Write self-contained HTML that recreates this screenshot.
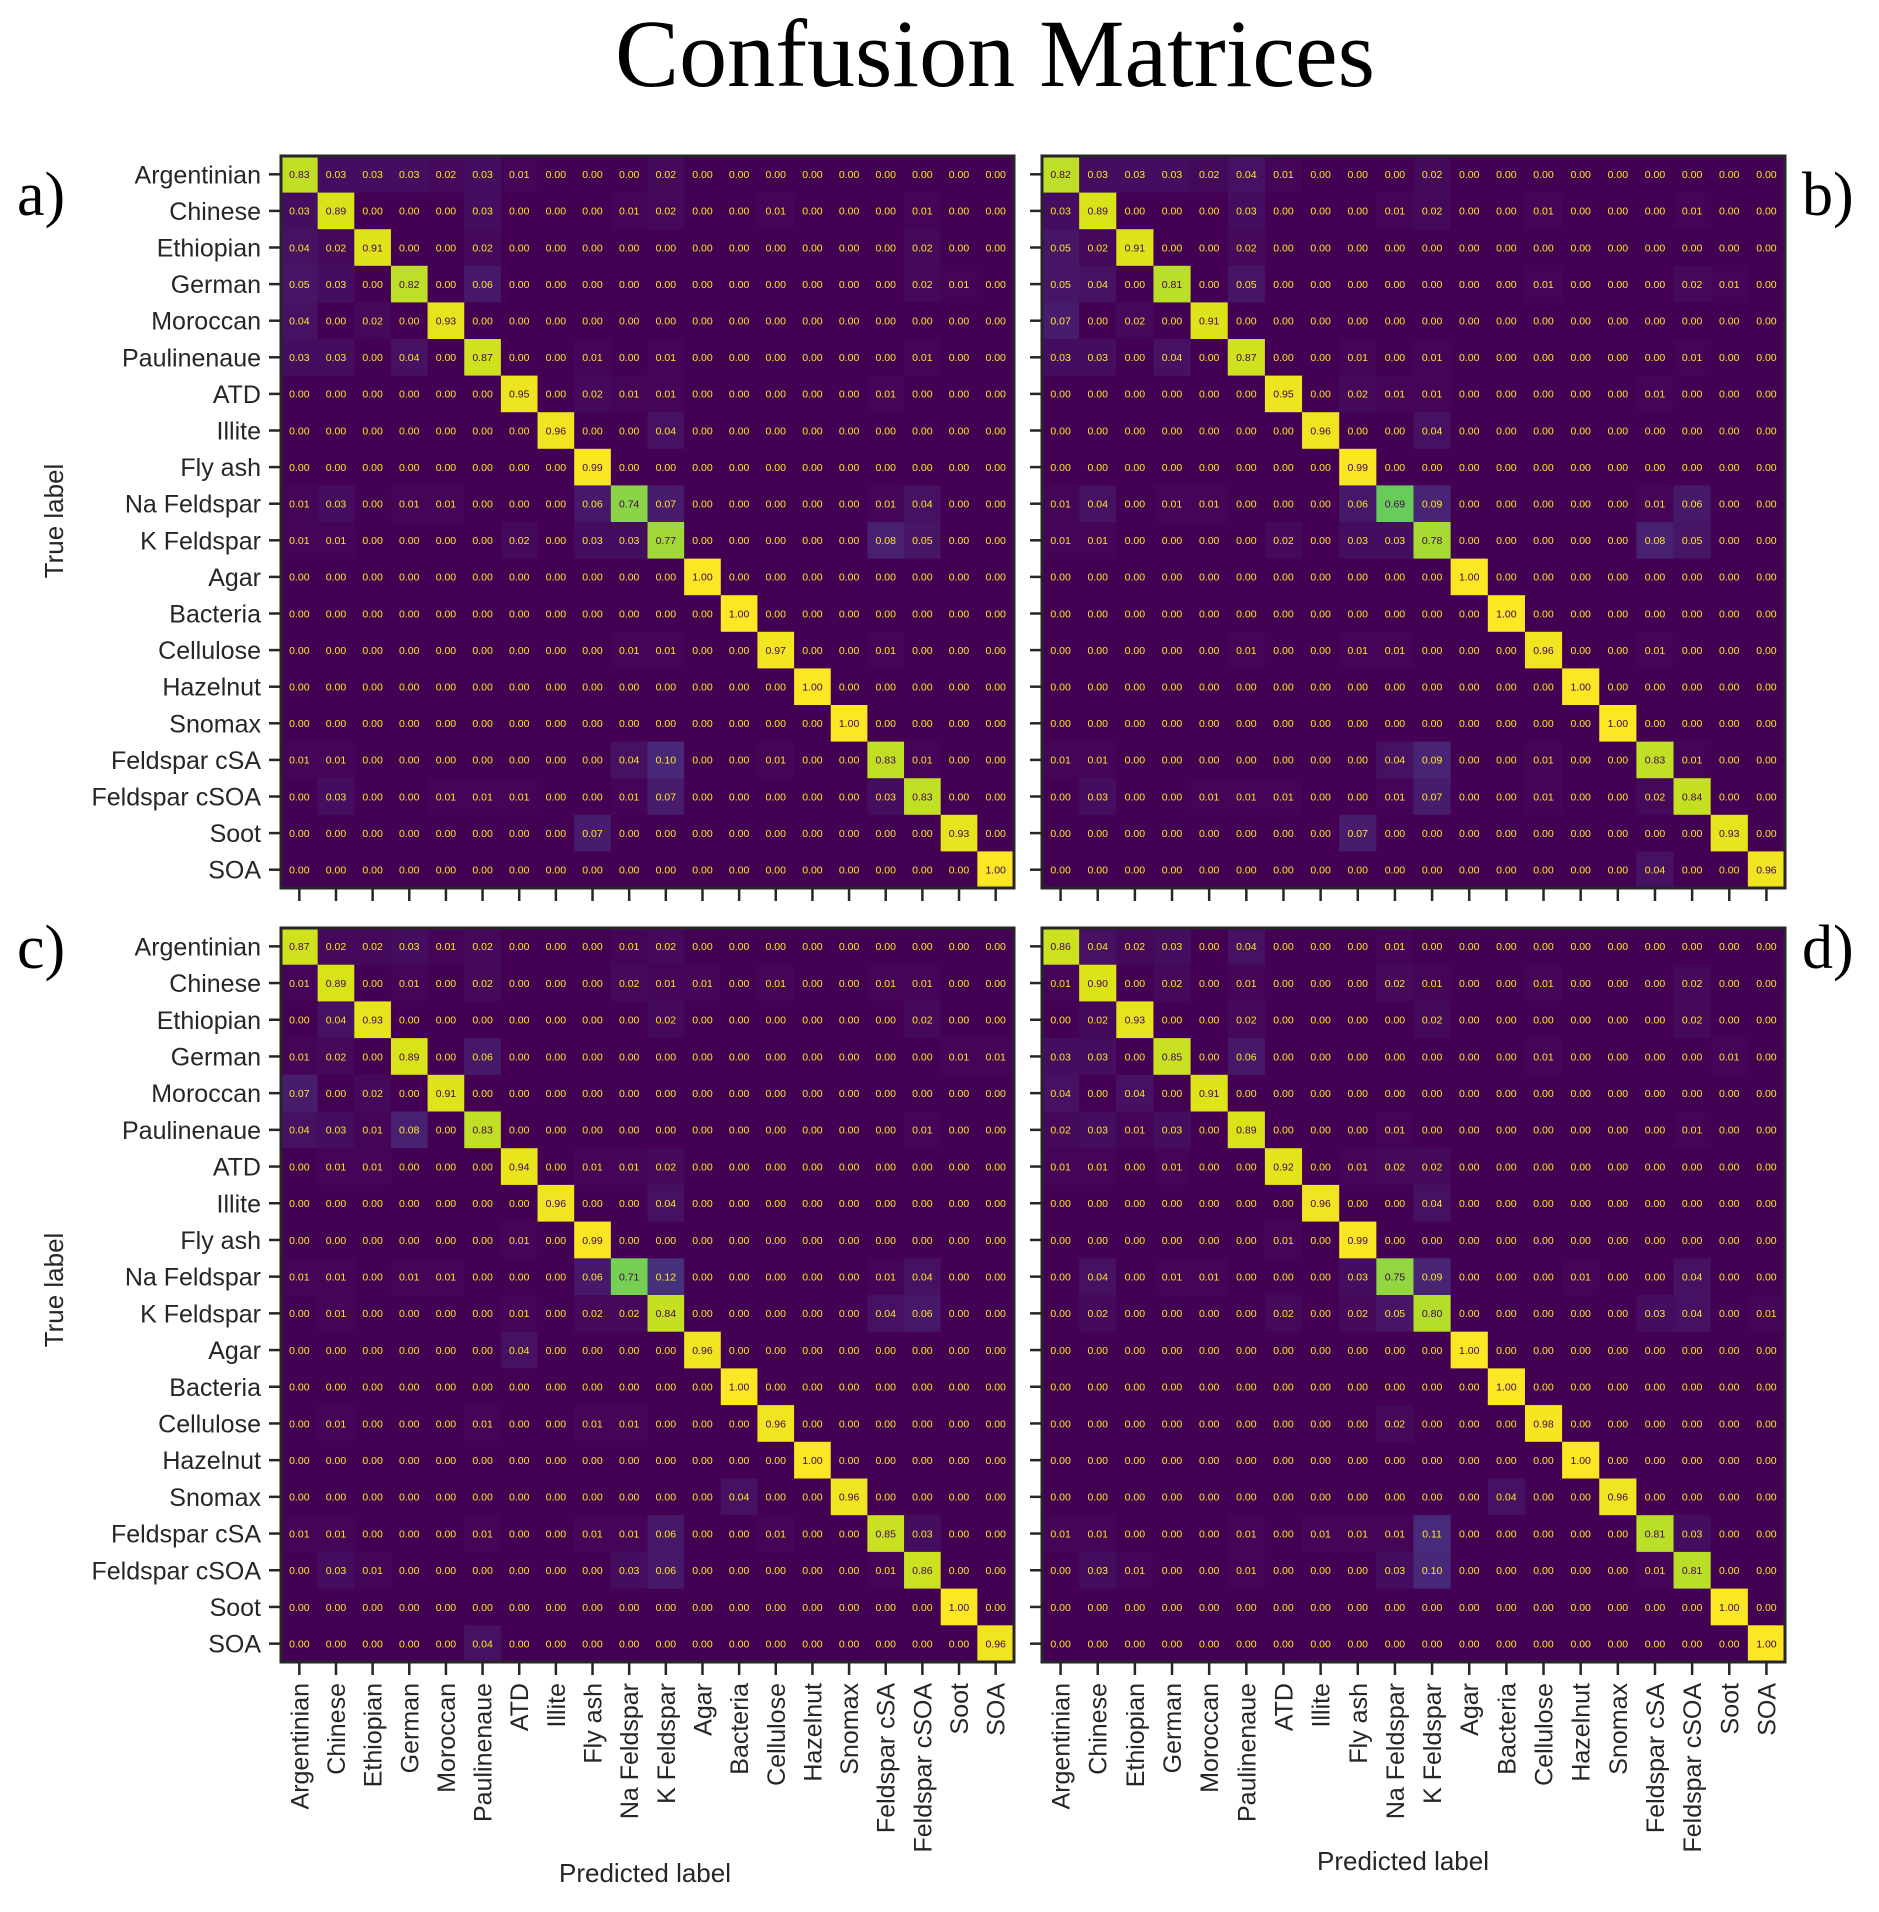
<!DOCTYPE html>
<html><head><meta charset="utf-8"><style>
html,body{margin:0;padding:0;background:#fff}
svg{display:block}
</style></head><body>
<svg id="fig" width="1879" height="1912" viewBox="0 0 1879 1912" xmlns="http://www.w3.org/2000/svg">
<text x="995" y="86" text-anchor="middle" font-family="Liberation Serif, serif" font-size="96">Confusion Matrices</text>
<text x="17" y="215" font-family="Liberation Serif, serif" font-size="62">a)</text>
<text x="1802" y="215" font-family="Liberation Serif, serif" font-size="62">b)</text>
<text x="17" y="968" font-family="Liberation Serif, serif" font-size="62">c)</text>
<text x="1802" y="968" font-family="Liberation Serif, serif" font-size="62">d)</text>
<text transform="translate(63,521) rotate(-90)" text-anchor="middle" font-family="Liberation Sans, sans-serif" font-size="26" fill="#262626">True label</text>
<text transform="translate(63,1290) rotate(-90)" text-anchor="middle" font-family="Liberation Sans, sans-serif" font-size="26" fill="#262626">True label</text>
<text x="645" y="1882" text-anchor="middle" font-family="Liberation Sans, sans-serif" font-size="26" fill="#262626">Predicted label</text>
<text x="1403" y="1870" text-anchor="middle" font-family="Liberation Sans, sans-serif" font-size="26" fill="#262626">Predicted label</text>
</svg>
<script>
const classes = ["Argentinian","Chinese","Ethiopian","German","Moroccan","Paulinenaue","ATD","Illite","Fly ash","Na Feldspar","K Feldspar","Agar","Bacteria","Cellulose","Hazelnut","Snomax","Feldspar cSA","Feldspar cSOA","Soot","SOA"];

const matrixA = [
[0.83,0.03,0.03,0.03,0.02,0.03,0.01,0,0,0,0.02,0,0,0,0,0,0,0,0,0],
[0.03,0.89,0,0,0,0.03,0,0,0,0.01,0.02,0,0,0.01,0,0,0,0.01,0,0],
[0.04,0.02,0.91,0,0,0.02,0,0,0,0,0,0,0,0,0,0,0,0.02,0,0],
[0.05,0.03,0,0.82,0,0.06,0,0,0,0,0,0,0,0,0,0,0,0.02,0.01,0],
[0.04,0,0.02,0,0.93,0,0,0,0,0,0,0,0,0,0,0,0,0,0,0],
[0.03,0.03,0,0.04,0,0.87,0,0,0.01,0,0.01,0,0,0,0,0,0,0.01,0,0],
[0,0,0,0,0,0,0.95,0,0.02,0.01,0.01,0,0,0,0,0,0.01,0,0,0],
[0,0,0,0,0,0,0,0.96,0,0,0.04,0,0,0,0,0,0,0,0,0],
[0,0,0,0,0,0,0,0,0.99,0,0,0,0,0,0,0,0,0,0,0],
[0.01,0.03,0,0.01,0.01,0,0,0,0.06,0.74,0.07,0,0,0,0,0,0.01,0.04,0,0],
[0.01,0.01,0,0,0,0,0.02,0,0.03,0.03,0.77,0,0,0,0,0,0.08,0.05,0,0],
[0,0,0,0,0,0,0,0,0,0,0,1.00,0,0,0,0,0,0,0,0],
[0,0,0,0,0,0,0,0,0,0,0,0,1.00,0,0,0,0,0,0,0],
[0,0,0,0,0,0,0,0,0,0.01,0.01,0,0,0.97,0,0,0.01,0,0,0],
[0,0,0,0,0,0,0,0,0,0,0,0,0,0,1.00,0,0,0,0,0],
[0,0,0,0,0,0,0,0,0,0,0,0,0,0,0,1.00,0,0,0,0],
[0.01,0.01,0,0,0,0,0,0,0,0.04,0.10,0,0,0.01,0,0,0.83,0.01,0,0],
[0,0.03,0,0,0.01,0.01,0.01,0,0,0.01,0.07,0,0,0,0,0,0.03,0.83,0,0],
[0,0,0,0,0,0,0,0,0.07,0,0,0,0,0,0,0,0,0,0.93,0],
[0,0,0,0,0,0,0,0,0,0,0,0,0,0,0,0,0,0,0,1.00]];

const matrixB = [
[0.82,0.03,0.03,0.03,0.02,0.04,0.01,0,0,0,0.02,0,0,0,0,0,0,0,0,0],
[0.03,0.89,0,0,0,0.03,0,0,0,0.01,0.02,0,0,0.01,0,0,0,0.01,0,0],
[0.05,0.02,0.91,0,0,0.02,0,0,0,0,0,0,0,0,0,0,0,0,0,0],
[0.05,0.04,0,0.81,0,0.05,0,0,0,0,0,0,0,0.01,0,0,0,0.02,0.01,0],
[0.07,0,0.02,0,0.91,0,0,0,0,0,0,0,0,0,0,0,0,0,0,0],
[0.03,0.03,0,0.04,0,0.87,0,0,0.01,0,0.01,0,0,0,0,0,0,0.01,0,0],
[0,0,0,0,0,0,0.95,0,0.02,0.01,0.01,0,0,0,0,0,0.01,0,0,0],
[0,0,0,0,0,0,0,0.96,0,0,0.04,0,0,0,0,0,0,0,0,0],
[0,0,0,0,0,0,0,0,0.99,0,0,0,0,0,0,0,0,0,0,0],
[0.01,0.04,0,0.01,0.01,0,0,0,0.06,0.69,0.09,0,0,0,0,0,0.01,0.06,0,0],
[0.01,0.01,0,0,0,0,0.02,0,0.03,0.03,0.78,0,0,0,0,0,0.08,0.05,0,0],
[0,0,0,0,0,0,0,0,0,0,0,1.00,0,0,0,0,0,0,0,0],
[0,0,0,0,0,0,0,0,0,0,0,0,1.00,0,0,0,0,0,0,0],
[0,0,0,0,0,0.01,0,0,0.01,0.01,0,0,0,0.96,0,0,0.01,0,0,0],
[0,0,0,0,0,0,0,0,0,0,0,0,0,0,1.00,0,0,0,0,0],
[0,0,0,0,0,0,0,0,0,0,0,0,0,0,0,1.00,0,0,0,0],
[0.01,0.01,0,0,0,0,0,0,0,0.04,0.09,0,0,0.01,0,0,0.83,0.01,0,0],
[0,0.03,0,0,0.01,0.01,0.01,0,0,0.01,0.07,0,0,0.01,0,0,0.02,0.84,0,0],
[0,0,0,0,0,0,0,0,0.07,0,0,0,0,0,0,0,0,0,0.93,0],
[0,0,0,0,0,0,0,0,0,0,0,0,0,0,0,0,0.04,0,0,0.96]];

const matrixC = [
[0.87,0.02,0.02,0.03,0.01,0.02,0,0,0,0.01,0.02,0,0,0,0,0,0,0,0,0],
[0.01,0.89,0,0.01,0,0.02,0,0,0,0.02,0.01,0.01,0,0.01,0,0,0.01,0.01,0,0],
[0,0.04,0.93,0,0,0,0,0,0,0,0.02,0,0,0,0,0,0,0.02,0,0],
[0.01,0.02,0,0.89,0,0.06,0,0,0,0,0,0,0,0,0,0,0,0,0.01,0.01],
[0.07,0,0.02,0,0.91,0,0,0,0,0,0,0,0,0,0,0,0,0,0,0],
[0.04,0.03,0.01,0.08,0,0.83,0,0,0,0,0,0,0,0,0,0,0,0.01,0,0],
[0,0.01,0.01,0,0,0,0.94,0,0.01,0.01,0.02,0,0,0,0,0,0,0,0,0],
[0,0,0,0,0,0,0,0.96,0,0,0.04,0,0,0,0,0,0,0,0,0],
[0,0,0,0,0,0,0.01,0,0.99,0,0,0,0,0,0,0,0,0,0,0],
[0.01,0.01,0,0.01,0.01,0,0,0,0.06,0.71,0.12,0,0,0,0,0,0.01,0.04,0,0],
[0,0.01,0,0,0,0,0.01,0,0.02,0.02,0.84,0,0,0,0,0,0.04,0.06,0,0],
[0,0,0,0,0,0,0.04,0,0,0,0,0.96,0,0,0,0,0,0,0,0],
[0,0,0,0,0,0,0,0,0,0,0,0,1.00,0,0,0,0,0,0,0],
[0,0.01,0,0,0,0.01,0,0,0.01,0.01,0,0,0,0.96,0,0,0,0,0,0],
[0,0,0,0,0,0,0,0,0,0,0,0,0,0,1.00,0,0,0,0,0],
[0,0,0,0,0,0,0,0,0,0,0,0,0.04,0,0,0.96,0,0,0,0],
[0.01,0.01,0,0,0,0.01,0,0,0.01,0.01,0.06,0,0,0.01,0,0,0.85,0.03,0,0],
[0,0.03,0.01,0,0,0,0,0,0,0.03,0.06,0,0,0,0,0,0.01,0.86,0,0],
[0,0,0,0,0,0,0,0,0,0,0,0,0,0,0,0,0,0,1.00,0],
[0,0,0,0,0,0.04,0,0,0,0,0,0,0,0,0,0,0,0,0,0.96]];

const matrixD = [
[0.86,0.04,0.02,0.03,0,0.04,0,0,0,0.01,0,0,0,0,0,0,0,0,0,0],
[0.01,0.90,0,0.02,0,0.01,0,0,0,0.02,0.01,0,0,0.01,0,0,0,0.02,0,0],
[0,0.02,0.93,0,0,0.02,0,0,0,0,0.02,0,0,0,0,0,0,0.02,0,0],
[0.03,0.03,0,0.85,0,0.06,0,0,0,0,0,0,0,0.01,0,0,0,0,0.01,0],
[0.04,0,0.04,0,0.91,0,0,0,0,0,0,0,0,0,0,0,0,0,0,0],
[0.02,0.03,0.01,0.03,0,0.89,0,0,0,0.01,0,0,0,0,0,0,0,0.01,0,0],
[0.01,0.01,0,0.01,0,0,0.92,0,0.01,0.02,0.02,0,0,0,0,0,0,0,0,0],
[0,0,0,0,0,0,0,0.96,0,0,0.04,0,0,0,0,0,0,0,0,0],
[0,0,0,0,0,0,0.01,0,0.99,0,0,0,0,0,0,0,0,0,0,0],
[0,0.04,0,0.01,0.01,0,0,0,0.03,0.75,0.09,0,0,0,0.01,0,0,0.04,0,0],
[0,0.02,0,0,0,0,0.02,0,0.02,0.05,0.80,0,0,0,0,0,0.03,0.04,0,0.01],
[0,0,0,0,0,0,0,0,0,0,0,1.00,0,0,0,0,0,0,0,0],
[0,0,0,0,0,0,0,0,0,0,0,0,1.00,0,0,0,0,0,0,0],
[0,0,0,0,0,0,0,0,0,0.02,0,0,0,0.98,0,0,0,0,0,0],
[0,0,0,0,0,0,0,0,0,0,0,0,0,0,1.00,0,0,0,0,0],
[0,0,0,0,0,0,0,0,0,0,0,0,0.04,0,0,0.96,0,0,0,0],
[0.01,0.01,0,0,0,0.01,0,0.01,0.01,0.01,0.11,0,0,0,0,0,0.81,0.03,0,0],
[0,0.03,0.01,0,0,0.01,0,0,0,0.03,0.10,0,0,0,0,0,0.01,0.81,0,0],
[0,0,0,0,0,0,0,0,0,0,0,0,0,0,0,0,0,0,1.00,0],
[0,0,0,0,0,0,0,0,0,0,0,0,0,0,0,0,0,0,0,1.00]];

const NS = "http://www.w3.org/2000/svg";
const svg = document.getElementById("fig");
const vstops = [[68,1,84],[72,40,120],[62,73,137],[49,104,142],[38,130,142],[31,158,137],[53,183,121],[110,206,88],[181,222,43],[220,227,24],[253,231,37]];
function viridis(t){
  t=Math.max(0,Math.min(1,t));const p=t*10,i=Math.min(9,Math.floor(p)),f=p-i;
  const a=vstops[i],b=vstops[i+1];
  return "rgb("+a.map((v,k)=>Math.round(v+(b[k]-v)*f)).join(",")+")";
}
function mk(tag,attrs){const e=document.createElementNS(NS,tag);for(const k in attrs)e.setAttribute(k,attrs[k]);return e;}

const panels = [
 {id:"a",m:matrixA,x:281,y:156,w:733,h:732,rowLabels:true,colLabels:false},
 {id:"b",m:matrixB,x:1042,y:156,w:743,h:732,rowLabels:false,colLabels:false},
 {id:"c",m:matrixC,x:281,y:928,w:733,h:734,rowLabels:true,colLabels:true},
 {id:"d",m:matrixD,x:1042,y:928,w:743,h:734,rowLabels:false,colLabels:true}
];
panels.forEach(P=>{
  const g=mk("g",{});
  
  
  svg.appendChild(g);
  const n=classes.length, cw=P.w/n, ch=P.h/n;
  const xs=j=>P.x+j*cw, ys=i=>P.y+i*ch;
  P.m.forEach((row,i)=>row.forEach((v,j)=>{
    const r=mk("rect",{x:xs(j),y:ys(i),width:cw+0.5,height:ch+0.5,fill:viridis(v)});
    
    
    g.appendChild(r);
    const t=mk("text",{x:xs(j)+cw/2,y:ys(i)+ch/2+3.8,"text-anchor":"middle","font-family":"Liberation Sans, sans-serif","font-size":"10.5",fill:v<0.5?"#fde725":"#440154"});
    t.textContent=v.toFixed(2);
    
    
    g.appendChild(t);
  }));
  const border=mk("rect",{x:P.x,y:P.y,width:P.w,height:P.h,fill:"none",stroke:"#262626","stroke-width":"3"});
  
  
  g.appendChild(border);
  classes.forEach((c,i)=>{
    const tk=mk("line",{x1:P.x-12,x2:P.x,y1:ys(i)+ch/2,y2:ys(i)+ch/2,stroke:"#262626","stroke-width":"2.5"});
    
    
    g.appendChild(tk);
    const bt=mk("line",{x1:xs(i)+cw/2,x2:xs(i)+cw/2,y1:P.y+P.h,y2:P.y+P.h+13,stroke:"#262626","stroke-width":"2.5"});
    
    
    g.appendChild(bt);
    if(P.rowLabels){
      const lt=mk("text",{x:P.x-20,y:ys(i)+ch/2+9,"text-anchor":"end","font-family":"Liberation Sans, sans-serif","font-size":"25",fill:"#262626"});
      lt.textContent=c;
      
      
      g.appendChild(lt);
    }
    if(P.colLabels){
      const cx=xs(i)+cw/2+9, cy=P.y+P.h+21;
      const lt=mk("text",{transform:"translate("+cx+","+cy+") rotate(-90)","text-anchor":"end","font-family":"Liberation Sans, sans-serif","font-size":"25",fill:"#262626"});
      lt.textContent=c;
      
      
      g.appendChild(lt);
    }
  });
});
</script>
</body></html>
